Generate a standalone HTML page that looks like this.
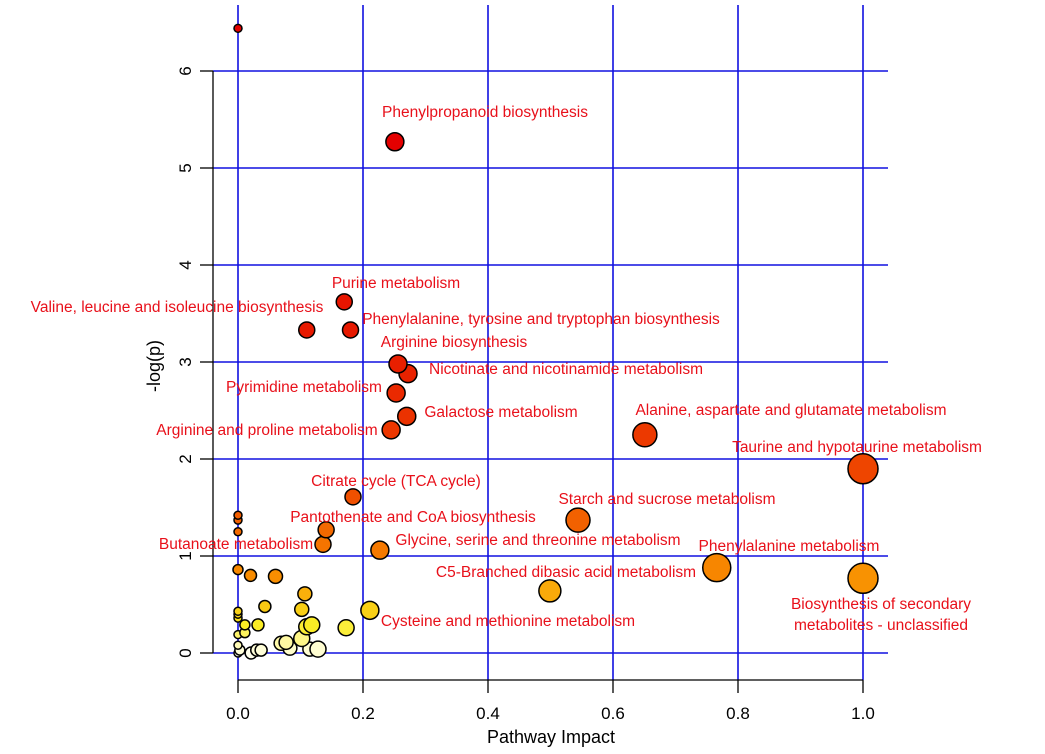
<!DOCTYPE html>
<html><head><meta charset="utf-8"><style>
html,body{margin:0;padding:0;background:#fff;}
svg{display:block;font-family:"Liberation Sans",sans-serif;}
</style></head><body>
<svg id="chart" width="1045" height="754" viewBox="0 0 1045 754">
<g id="grid"></g>
<g id="axes"></g>
<g id="points"></g>
<g id="labels"></g>
</svg>
<script>
const impactValues = [0,0.251,0.17,0.11,0.18,0.256,0.272,0.253,0.27,0.245,0.651,1.0,0.184,0.544,0.141,0.136,0.227,0.766,1.0,0.499,0.211,0.173,
 0,0,0,0,0.02,0.06,0.107,0.102,0.043,0,0,0,0.011,0.032,0,0.011,0.118,0.11,0.102,0.069,0.077,0.083,0.115,0.128,0,0.003,0,0.021,0.03,0.037];
const logpValues = [6.44,5.27,3.62,3.33,3.33,2.98,2.88,2.68,2.44,2.30,2.25,1.90,1.61,1.37,1.27,1.12,1.06,0.88,0.77,0.64,0.44,0.26,
 1.42,1.37,1.25,0.86,0.80,0.79,0.61,0.45,0.48,0.43,0.40,0.36,0.29,0.29,0.19,0.21,0.29,0.27,0.15,0.10,0.11,0.05,0.04,0.04,0.08,0.03,0,0,0.03,0.03];
const radii = [4,9,8,8,8,9,9,9,9,9,12,15,8,12,8,8,9,14,15,11,9,8,
 4,4,4,5,6,7,7,7,6,4,4,4,5,6,4,5,8,8,8,7,7,7,7,8,4,5,4,6,6,6];
const xTicks = [0,0.2,0.4,0.6,0.8,1.0];
const xTickLabels = ["0.0","0.2","0.4","0.6","0.8","1.0"];
const yTicks = [0,1,2,3,4,5,6];
const yTickLabels = ["0","1","2","3","4","5","6"];
const labelTexts = ["Phenylpropanoid biosynthesis","Purine metabolism","Valine, leucine and isoleucine biosynthesis","Phenylalanine, tyrosine and tryptophan biosynthesis","Arginine biosynthesis","Nicotinate and nicotinamide metabolism","Pyrimidine metabolism","Galactose metabolism","Alanine, aspartate and glutamate metabolism","Arginine and proline metabolism","Taurine and hypotaurine metabolism","Citrate cycle (TCA cycle)","Starch and sucrose metabolism","Pantothenate and CoA biosynthesis","Butanoate metabolism","Glycine, serine and threonine metabolism","Phenylalanine metabolism","C5-Branched dibasic acid metabolism","Biosynthesis of secondary","metabolites - unclassified","Cysteine and methionine metabolism"];
const labelX = [485,396,177,541,454,566,304,501,791,267,857,396,667,413,236,538,789,566,881,881,508];
const labelY = [117,288,312,324,347,374,392,417,415,435,452,486,504,522,549,545,551,577,609,630,626];

const NS="http://www.w3.org/2000/svg";
const sx = v => 238 + v*625;
const sy = v => 653 - v*97;
function mk(tag, attrs, parent){const e=document.createElementNS(NS,tag);for(const k in attrs)e.setAttribute(k,attrs[k]);parent.appendChild(e);return e;}
function colorFor(p){
  const stops=[[0,[255,255,235]],[0.1,[255,250,170]],[0.3,[250,235,30]],[0.8,[248,140,0]],[1.6,[240,80,0]],[3,[232,30,0]],[5,[228,0,0]]];
  if(p>=stops[stops.length-1][0])return "rgb(228,0,0)";
  for(let i=1;i<stops.length;i++){if(p<=stops[i][0]){const a=stops[i-1],b=stops[i];const t=(p-a[0])/(b[0]-a[0]);const c=a[1].map((v,j)=>Math.round(v+(b[1][j]-v)*t));return `rgb(${c})`;}}
}
const grid=document.getElementById('grid');
xTicks.forEach((t,i)=>{const l=mk('line',{x1:sx(t),x2:sx(t),y1:5,y2:680,stroke:'#1010e0','stroke-width':1.6},grid);

});
yTicks.forEach((t,i)=>{const l=mk('line',{x1:213,x2:888,y1:sy(t),y2:sy(t),stroke:'#1010e0','stroke-width':1.6},grid);

});
const axes=document.getElementById('axes');
mk('line',{x1:213,x2:213,y1:sy(6),y2:sy(0),stroke:'#000','stroke-width':1.3},axes);
mk('line',{x1:sx(0),x2:sx(1),y1:680,y2:680,stroke:'#000','stroke-width':1.3},axes);
yTicks.forEach((t,i)=>{mk('line',{x1:200,x2:213,y1:sy(t),y2:sy(t),stroke:'#000','stroke-width':1.3},axes);
const tx=mk('text',{x:0,y:0,transform:`translate(191,${sy(t)}) rotate(-90)`,'text-anchor':'middle','font-size':17,fill:'#000'},axes);tx.textContent=yTickLabels[i];

});
xTicks.forEach((t,i)=>{mk('line',{x1:sx(t),x2:sx(t),y1:680,y2:693,stroke:'#000','stroke-width':1.3},axes);
const tx=mk('text',{x:sx(t),y:719,'text-anchor':'middle','font-size':17,fill:'#000'},axes);tx.textContent=xTickLabels[i];

});
const xt=mk('text',{x:551,y:743,'text-anchor':'middle','font-size':18,fill:'#000'},axes);xt.textContent='Pathway Impact';


const yt=mk('text',{x:0,y:0,transform:'translate(160,366) rotate(-90)','text-anchor':'middle','font-size':18,fill:'#000'},axes);yt.textContent='-log(p)';


const pts=document.getElementById('points');
const order=impactValues.map((_,i)=>i).sort((a,b)=>logpValues[a]-logpValues[b]);
order.forEach(i=>{const c=mk('circle',{cx:sx(impactValues[i]),cy:sy(logpValues[i]),r:radii[i],fill:colorFor(logpValues[i]),stroke:'#000','stroke-width':1.5},pts);

});
const lg=document.getElementById('labels');
labelTexts.forEach((s,i)=>{const t=mk('text',{x:labelX[i],y:labelY[i],'text-anchor':'middle','font-size':15.5,fill:'#e8101a'},lg);t.textContent=s;

});
</script>
</body></html>
